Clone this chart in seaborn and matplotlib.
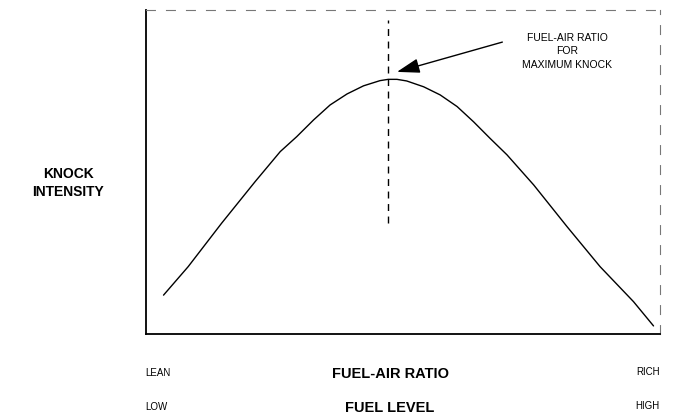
import pandas as pd
import matplotlib.pyplot as plt
import seaborn as sns

# curve (0-100 both axes, no units shown)
ratio = [3.4, 8.2, 14.7, 21.2, 26.1, 29.3, 32.6, 35.8, 39.1, 42.3, 45.5, 47.1, 48.8,
         50.7, 54.0, 57.2, 60.5, 63.7, 66.9, 70.2, 75.4, 81.9, 88.3, 94.8, 98.7]
knock = [12.0, 20.8, 34.2, 47.0, 56.3, 60.9, 66.1, 70.7, 74.1, 76.6, 78.2, 78.6, 78.6,
         78.1, 76.3, 73.8, 70.2, 65.5, 60.4, 55.3, 46.0, 33.1, 20.8, 10.0, 2.5]

peak_x = 47.1
peak_line_y = [34.3, 97.0]
arrow_tail = (69.3, 90.1)
arrow_head = (48.8, 80.9)

note_text = "FUEL-AIR RATIO\nFOR\nMAXIMUM KNOCK"
y_label = "KNOCK\nINTENSITY"
x_label_1 = "FUEL-AIR RATIO"
x_label_2 = "FUEL LEVEL"
ends_1 = ["LEAN", "RICH"]
ends_2 = ["LOW", "HIGH"]

df = pd.DataFrame({"ratio": ratio, "knock": knock})

sns.set_style("white")
plt.rcParams['font.family'] = ['Liberation Sans', 'DejaVu Sans']
plt.rcParams['text.color'] = 'black'

fig = plt.figure(figsize=(6.73, 4.17), dpi=100)
ax = fig.add_axes([0.217, 0.199, 0.764, 0.777])

sns.lineplot(data=df, x="ratio", y="knock", color="black", linewidth=1.0, ax=ax)
ax.plot([peak_x, peak_x], peak_line_y, color="black", linestyle=(0, (5, 4)), linewidth=1.0)

ax.annotate("", xy=arrow_head, xytext=arrow_tail,
            arrowprops=dict(arrowstyle="-|>,head_length=1.4,head_width=0.45",
                            color="black", lw=1.0, shrinkA=0, shrinkB=0))
ax.text(81.9, 87.3, note_text, ha="center", va="center", fontsize=7.5, linespacing=1.45)

ax.set_xlim(0, 100)
ax.set_ylim(0, 100)
ax.set_xticks([])
ax.set_yticks([])
ax.set_xlabel("")
ax.set_ylabel("")

for side in ["left", "bottom"]:
    ax.spines[side].set_color("black")
    ax.spines[side].set_linewidth(1.3)
for side in ["top", "right"]:
    ax.spines[side].set_color("#777777")
    ax.spines[side].set_linewidth(0.8)
    ax.spines[side].set_linestyle((0, (8, 10)))

fig.text(68 / 673, 1 - 183 / 417, y_label, ha="center", va="center",
         fontsize=10, fontweight="bold", linespacing=1.35)

fig.text(390 / 673, 1 - 374 / 417, x_label_1, ha="center", va="center", fontsize=10.5, fontweight="bold")
fig.text(390 / 673, 1 - 408 / 417, x_label_2, ha="center", va="center", fontsize=10.5, fontweight="bold")
fig.text(145 / 673, 1 - 373 / 417, ends_1[0], ha="left", va="center", fontsize=7)
fig.text(660 / 673, 1 - 372 / 417, ends_1[1], ha="right", va="center", fontsize=7)
fig.text(145 / 673, 1 - 407 / 417, ends_2[0], ha="left", va="center", fontsize=7)
fig.text(660 / 673, 1 - 406 / 417, ends_2[1], ha="right", va="center", fontsize=7)

fig.savefig("out.png", dpi=100)
plt.close(fig)
